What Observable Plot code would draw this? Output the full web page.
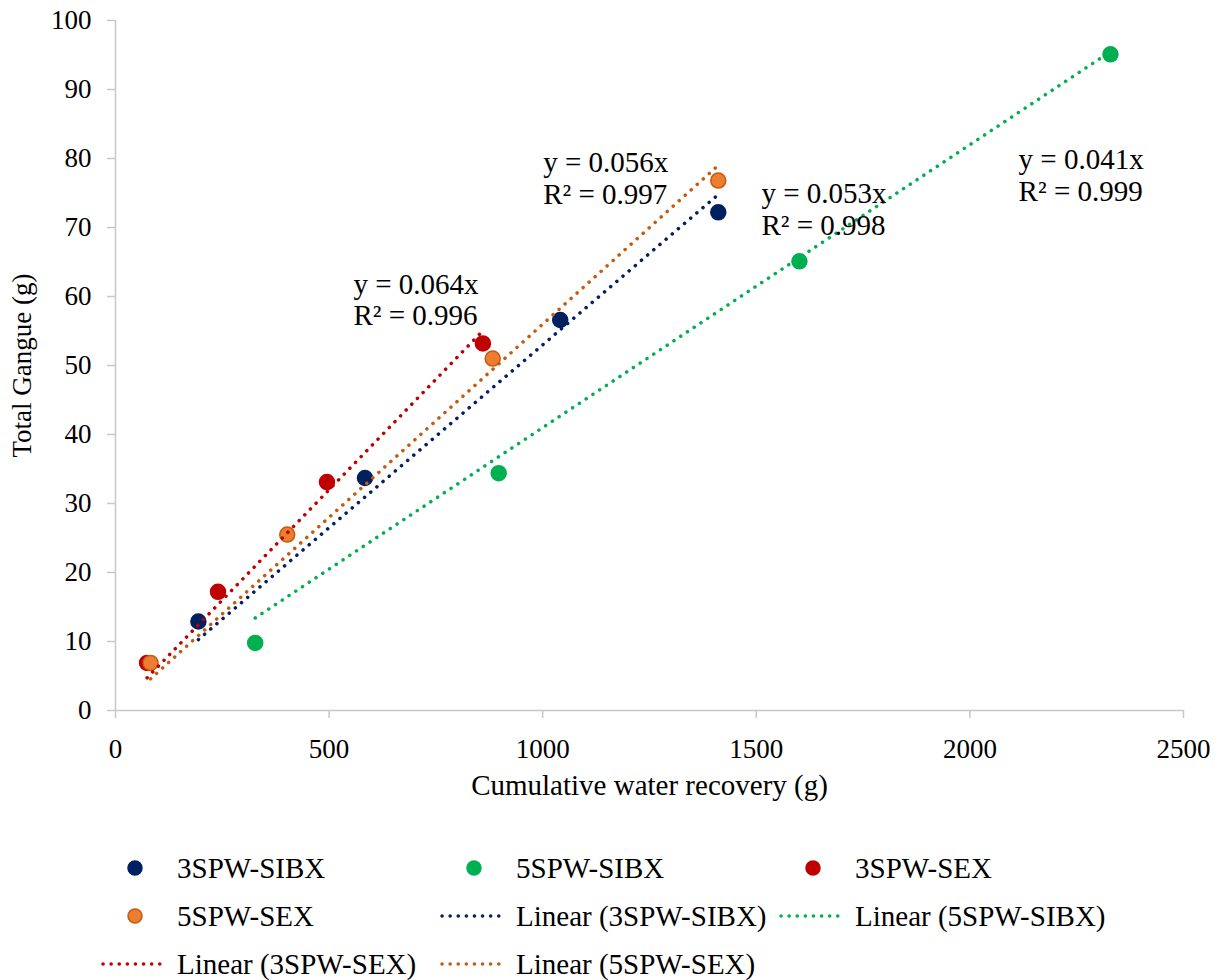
<!DOCTYPE html>
<html>
<head>
<meta charset="utf-8">
<script src="https://cdn.jsdelivr.net/npm/d3@7"></script>
<script src="https://cdn.jsdelivr.net/npm/@observablehq/plot@0.6"></script>
<style>
  body { margin: 0; background: #fff; font-family: "Liberation Serif", "Times New Roman", serif; }
  #chart svg { display: block; }
  .legend {
    display: grid;
    grid-template-columns: 339px 339px 339px;
    grid-auto-rows: 48px;
    padding-left: 101px;
    margin-top: 24px;
    font-size: 29px;
    color: #000;
  }
  .legend .item { display: flex; align-items: center; white-space: nowrap; }
  .legend .item svg { width: 68px; height: 20px; margin-right: 8px; flex: none; }
</style>
</head>
<body>
<div id="chart"></div>
<div class="legend" id="legend"></div>
<script>
// Cumulative water recovery (g) and total gangue (g) for each flotation test
const seriesNames = ["3SPW-SIBX", "5SPW-SIBX", "3SPW-SEX", "5SPW-SEX"];

const water3SIBX  = [194, 584, 1041, 1411];
const gangue3SIBX = [12.9, 33.7, 56.6, 72.2];

const water5SIBX  = [327, 897, 1601, 2329];
const gangue5SIBX = [9.8, 34.4, 65.1, 95.1];

const water3SEX  = [74, 240, 495, 860];
const gangue3SEX = [6.9, 17.2, 33.1, 53.2];

const water5SEX  = [82, 402, 883, 1411];
const gangue5SEX = [6.9, 25.5, 51.0, 76.8];

// Linear fits forced through the origin
const slopes   = [0.053, 0.041, 0.064, 0.056];
const rSquared = [0.998, 0.999, 0.996, 0.997];

// Where each fit equation is written (data units)
const eqWater  = [1512, 2114, 557, 1001];
const eqGangue = [72.7, 77.6, 59.6, 77.2];

const xTicks = [0, 500, 1000, 1500, 2000, 2500];
const yTicks = [0, 10, 20, 30, 40, 50, 60, 70, 80, 90, 100];

const dotFill   = ["#002060", "#00b050", "#c00000", "#ed7d31"];
const dotStroke = ["#002060", "#00b050", "#c00000", "#c55a11"];
const lineColor = ["#002060", "#00b050", "#c00000", "#c55a11"];

const waters  = [water3SIBX, water5SIBX, water3SEX, water5SEX];
const gangues = [gangue3SIBX, gangue5SIBX, gangue3SEX, gangue5SEX];

const points = seriesNames.flatMap((name, s) =>
  waters[s].map((w, i) => ({series: name, s, water: w, gangue: gangues[s][i]})));

const fitLines = seriesNames.map((name, s) => {
  const lo = d3.min(waters[s]), hi = d3.max(waters[s]);
  return [
    {series: name, water: lo, gangue: slopes[s] * lo},
    {series: name, water: hi, gangue: slopes[s] * hi}
  ];
});

const equations = seriesNames.map((name, s) => ({
  water: eqWater[s],
  gangue: eqGangue[s],
  label: `y = ${slopes[s].toFixed(3)}x\nR² = ${rSquared[s].toFixed(3)}`
}));

const axisGrey = "#c8c8c8";
const serif = "Liberation Serif, Times New Roman, serif";

const chart = Plot.plot({
  width: 1225,
  height: 820,
  marginLeft: 115,
  marginRight: 42,
  marginTop: 20,
  marginBottom: 110,
  style: {fontFamily: serif, fontSize: "27px", color: "#000", background: "#fff"},
  x: {domain: [0, 2500]},
  y: {domain: [0, 100]},
  marks: [
    Plot.ruleX([0], {stroke: axisGrey, strokeWidth: 1.5}),
    Plot.ruleY([0], {stroke: axisGrey, strokeWidth: 1.5}),
    Plot.axisX({ticks: xTicks, tickFormat: d => String(d), tickSize: 8, tickPadding: 20,
                stroke: axisGrey, strokeWidth: 1.5, fill: "#000", fontSize: 27, label: null}),
    Plot.axisY({ticks: yTicks, tickFormat: d => String(d), tickSize: 8, tickPadding: 16,
                stroke: axisGrey, strokeWidth: 1.5, fill: "#000", fontSize: 27, label: null}),
    ...seriesNames.map((name, s) =>
      Plot.dot(points.filter(d => d.s === s), {
        x: "water", y: "gangue", r: 7.5,
        fill: dotFill[s], stroke: dotStroke[s], strokeWidth: 1.5
      })),
    ...fitLines.map((line, s) =>
      Plot.line(line, {
        x: "water", y: "gangue", stroke: lineColor[s], strokeWidth: 3.5,
        strokeDasharray: "0.1 8", strokeLinecap: "round"
      })),
    Plot.text(equations, {
      x: "water", y: "gangue", text: "label", textAnchor: "start", lineAnchor: "middle",
      lineHeight: 1.1, fontSize: 29, fill: "#000"
    }),
    Plot.text(["Cumulative water recovery (g)"], {
      text: d => d, frameAnchor: "bottom", textAnchor: "middle", dy: 84, fontSize: 29,
      fill: "#000", style: {wordSpacing: "3px"}
    }),
    Plot.text(["Total Gangue (g)"], {
      text: d => d, frameAnchor: "left", textAnchor: "middle", dx: -93, rotate: -90,
      fontSize: 27, fill: "#000"
    })
  ]
});
document.getElementById("chart").append(chart);

// Legend: markers first, then the fitted lines
const legendItems = [
  ...seriesNames.map((name, s) => ({kind: "dot", s, label: name})),
  ...seriesNames.map((name, s) => ({kind: "line", s, label: `Linear (${name})`}))
];
const legend = d3.select("#legend");
for (const item of legendItems) {
  const row = legend.append("div").attr("class", "item");
  const svg = row.append("svg").attr("viewBox", "0 0 68 20");
  if (item.kind === "dot") {
    svg.append("circle").attr("cx", 34).attr("cy", 10).attr("r", 7)
      .attr("fill", dotFill[item.s]).attr("stroke", dotStroke[item.s]).attr("stroke-width", 1.5);
  } else {
    svg.append("line").attr("x1", 2).attr("x2", 66).attr("y1", 10).attr("y2", 10)
      .attr("stroke", lineColor[item.s]).attr("stroke-width", 3.5)
      .attr("stroke-dasharray", "0.1 8").attr("stroke-linecap", "round");
  }
  row.append("span").text(item.label);
}
</script>
</body>
</html>
